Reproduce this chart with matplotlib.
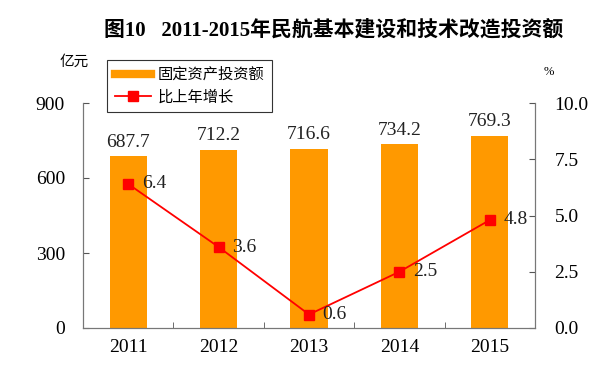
import matplotlib
matplotlib.use("Agg")
import matplotlib.pyplot as plt
import numpy as np

plt.rcParams['font.family'] = ['Liberation Serif', 'Noto Sans CJK SC', 'DejaVu Sans']

years = ["2011", "2012", "2013", "2014", "2015"]
invest = [687.7, 712.2, 716.6, 734.2, 769.3]
growth = [6.4, 3.6, 0.6, 2.5, 4.8]

title = "图10   2011-2015年民航基本建设和技术改造投资额"
bar_name = "固定资产投资额"
line_name = "比上年增长"

fig = plt.figure(figsize=(6.15, 3.77), dpi=100)
ax = fig.add_axes([83 / 615, 1 - 328 / 377, (535 - 83) / 615, (328 - 103) / 377])
ax2 = ax.twinx()

x = np.arange(len(years))
bars = ax.bar(x, invest, width=0.41, color="#FF9900", zorder=2)
for xi, v in zip(x, invest):
    ax.text(xi, v + 22, f"{v:.1f}", ha="center", va="bottom", fontsize=14, color="#222222")

line, = ax2.plot(x, growth, color="#FF0000", lw=1.3, marker="s", markersize=7, zorder=3)
for xi, v in zip(x, growth):
    ax2.text(xi + 0.15, v, f"{v:.1f}", ha="left", va="center", fontsize=14, color="#222222")

ax.set_xlim(-0.5, 4.5)
ax.set_ylim(0, 900)
ax.set_yticks([0, 300, 600, 900])
ax2.set_ylim(0, 10)
ax2.set_yticks([0, 2.5, 5, 7.5, 10])
ax2.set_yticklabels(["0.0", "2.5", "5.0", "7.5", "10.0"])

ax.set_xticks(x)
ax.set_xticklabels(years)
ax.set_xticks(np.arange(0.5, 4.5, 1), minor=True)
ax.tick_params(axis="x", which="major", length=0, labelsize=14, pad=8)
ax.tick_params(axis="x", which="minor", direction="in", length=4, color="#555555")
ax.tick_params(axis="y", direction="in", length=4, labelsize=14, pad=13, color="#555555")
ax2.tick_params(axis="y", direction="in", length=4, labelsize=14, pad=14, color="#555555")

for a in (ax, ax2):
    a.spines["top"].set_visible(False)
    for s in ("left", "right", "bottom"):
        a.spines[s].set_color("#777777")

fig.text(60 / 615, 1 - 62 / 377, "亿元", fontsize=10.5, ha="left", va="center")
fig.text(549 / 615, 1 - 72 / 377, "%", fontsize=9, ha="center", va="center")
fig.text(334 / 615, 1 - 30 / 377, title, fontsize=15, fontweight="bold", ha="center", va="center")

leg = ax.legend([plt.Line2D([], [], color="#FF9900", lw=6),
                 plt.Line2D([], [], color="#FF0000", lw=1.3, marker="s", markersize=7)],
                [bar_name, line_name],
                loc="upper left", bbox_to_anchor=(107 / 615, 1 - 60 / 377),
                bbox_transform=fig.transFigure, borderaxespad=0, fancybox=False, framealpha=1,
                edgecolor="#333333", fontsize=11, handlelength=2.4, handletextpad=0.4,
                borderpad=0.5, labelspacing=0.55)
leg.get_frame().set_linewidth(0.8)
leg.set_zorder(5)

fig.savefig("out.png", dpi=100)
